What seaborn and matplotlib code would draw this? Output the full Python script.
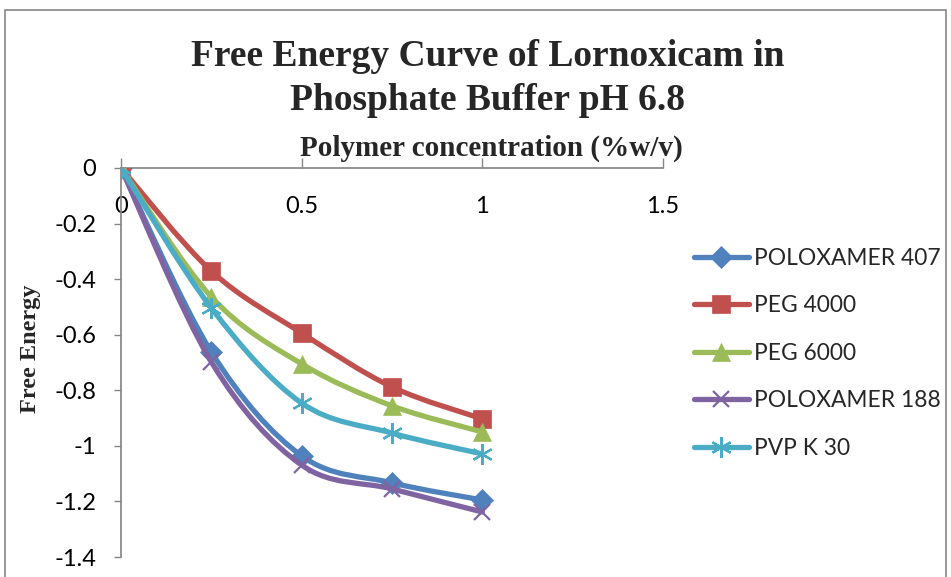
import numpy as np
import pandas as pd
import matplotlib
matplotlib.use("Agg")
import matplotlib.pyplot as plt
import seaborn as sns
from matplotlib.path import Path
from matplotlib.patches import PathPatch, Rectangle
from matplotlib.lines import Line2D

# ---- data ----
conc = [0, 0.25, 0.5, 0.75, 1.0]
poloxamer_407 = [0, -0.662, -1.036, -1.133, -1.195]
peg_4000 = [0, -0.371, -0.594, -0.788, -0.903]
peg_6000 = [0, -0.464, -0.705, -0.856, -0.950]
poloxamer_188 = [0, -0.698, -1.069, -1.155, -1.238]
pvp_k30 = [0, -0.504, -0.846, -0.954, -1.029]
series_names = ["POLOXAMER 407", "PEG 4000", "PEG 6000", "POLOXAMER 188", "PVP K 30"]
series_values = [poloxamer_407, peg_4000, peg_6000, poloxamer_188, pvp_k30]
x_ticks = [0, 0.5, 1, 1.5]
x_tick_labels = ["0", "0.5", "1", "1.5"]
y_ticks = [0, -0.2, -0.4, -0.6, -0.8, -1, -1.2, -1.4]
y_tick_labels = ["0", "-0.2", "-0.4", "-0.6", "-0.8", "-1", "-1.2", "-1.4"]

colors = ["#4F81BD", "#C0504D", "#9BBB59", "#8064A2", "#4BACC6"]
markers = ["D", "s", "^", "x", (6, 2, 0)]
msizes = [11, 13, 13, 12, 15]
mews = [0.5, 0.5, 0.5, 1.6, 1.6]

rows = []
for name, vals in zip(series_names, series_values):
    for xv, yv in zip(conc, vals):
        rows.append({"series": name, "conc": xv, "energy": yv})
df = pd.DataFrame(rows)

sns.set_theme(style="white")
plt.rcParams["font.family"] = ["Lato", "DejaVu Sans"]

fig = plt.figure(figsize=(9.51, 5.77), dpi=100)
ax = fig.add_axes([121 / 951, 1 - 557 / 577, (663 - 121) / 951, (557 - 168) / 577])


def smooth_path(xs, ys):
    pts = np.column_stack([xs, ys]).astype(float)
    n = len(pts)
    verts = [pts[0]]
    codes = [Path.MOVETO]
    for i in range(n - 1):
        p0 = pts[i - 1] if i > 0 else pts[i]
        p1 = pts[i]
        p2 = pts[i + 1]
        p3 = pts[i + 2] if i + 2 < n else pts[i + 1]
        c1 = p1 + (p2 - p0) / 6.0
        c2 = p2 - (p3 - p1) / 6.0
        verts += [c1, c2, p2]
        codes += [Path.CURVE4] * 3
    return Path(verts, codes)


LW = 3.8
handles = []
for i, (name, col, mk, ms, mew) in enumerate(zip(series_names, colors, markers, msizes, mews)):
    sub = df[df["series"] == name]
    patch = PathPatch(smooth_path(sub["conc"].values, sub["energy"].values),
                      facecolor="none", edgecolor=col, lw=LW, zorder=2 + 2 * i,
                      capstyle="round", joinstyle="round")
    ax.add_patch(patch)
    sns.lineplot(data=sub, x="conc", y="energy", ax=ax, color=col, marker=mk,
                 markersize=ms, linestyle="none", markeredgecolor=col,
                 markeredgewidth=mew, zorder=3 + 2 * i, legend=False,
                 estimator=None, sort=False)
    handles.append(Line2D([0], [0], color=col, lw=LW, marker=mk, markersize=ms,
                          markeredgecolor=col, solid_capstyle="round",
                          markeredgewidth=mew))

ax.set_xlim(0, 1.5)
ax.set_ylim(-1.4, 0)
ax.set_xticks(x_ticks)
ax.set_xticklabels(x_tick_labels)
ax.set_yticks(y_ticks)
ax.set_yticklabels(y_tick_labels)

for s in ["right", "top"]:
    ax.spines[s].set_visible(False)
ax.spines["bottom"].set_position(("data", 0))
ax.spines["bottom"].set_color("#868686")
ax.spines["left"].set_color("#868686")
ax.spines["bottom"].set_zorder(1)
ax.spines["left"].set_zorder(1)
ax.patch.set_alpha(0)

ax.tick_params(axis="x", direction="in", length=7, color="#868686", width=1,
               labelsize=17, pad=20, labelcolor="black", bottom=True)
ax.tick_params(axis="y", direction="out", length=5, color="#868686", width=1,
               labelsize=17, pad=13, labelcolor="black", left=True)

ax.set_xlabel("")
ax.set_ylabel("Free Energy", fontsize=17.5, fontweight="bold",
              family=["Liberation Serif"], labelpad=0)
ax.yaxis.set_label_coords(-0.147, 0.535)

fig.text(488 / 951, 1 - 57 / 577, "Free Energy Curve of Lornoxicam in",
         ha="center", va="center", fontsize=27, fontweight="bold",
         family=["Liberation Serif"])
fig.text(488 / 951, 1 - 100 / 577, "Phosphate Buffer pH 6.8",
         ha="center", va="center", fontsize=27, fontweight="bold",
         family=["Liberation Serif"])
fig.text(491 / 951, 1 - 148 / 577, "Polymer concentration (%w/v)", ha="center", va="center",
         fontsize=21, fontweight="bold", family=["Liberation Serif"])

leg = fig.legend(handles, series_names, loc="upper left",
                 bbox_to_anchor=(694 / 951, 1 - 248 / 577),
                 frameon=False, fontsize=16.4, handlelength=2.4, labelspacing=1.16,
                 handletextpad=0.25, borderaxespad=0, borderpad=0)

fig.patches.append(Rectangle((5 / 951, -0.02), (946 - 5) / 951, 1 - 10 / 577 + 0.02,
                             transform=fig.transFigure, fill=False, edgecolor="#868686",
                             lw=1.2, zorder=0))

fig.savefig("out.png", dpi=100)
